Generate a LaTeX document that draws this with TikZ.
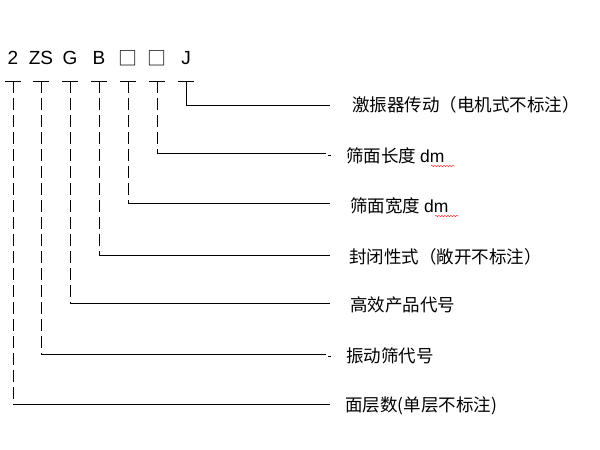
\documentclass[tikz,border=0pt]{standalone}
\usepackage{fontspec}
\setmainfont{Liberation Sans}
\newfontfamily\cjk{Noto Sans CJK SC}
\usetikzlibrary{decorations.pathmorphing}
\tikzset{code/.style={font=\fontsize{19}{22}\selectfont, inner sep=0pt},
 lbl/.style={font=\cjk\fontsize{17.5}{20}\selectfont, anchor=west, inner sep=0pt},
 leg/.style={thin, dash pattern=on 12pt off 5pt},
 wavy/.style={red, decorate, decoration={snake, amplitude=.6pt, segment length=3pt}},
 }
\begin{document}
\begin{tikzpicture}[x=1pt, y=-1pt]
        \useasboundingbox (0,0) rectangle (600,450);
        % code letters and their legs
        \foreach \t/\x/\y[count=\i] in {{\cjk □}/157/153, {\cjk □}/128/203, B/99/255, G/70/303, ZS/41/354, 2/13/404} {
            \node[code] (c\i) at (\x, 58) {\t};
            \coordinate (t\i) at (\x, 81);
            \draw (\x-8, 81) -- (\x+8, 81);
            \draw[leg] (t\i) -- (\x, \y) coordinate (e\i);
        }
        \node[code] (cj) at (186, 58) {J};
        \draw (178, 81) -- (194, 81);
        \draw (186, 81) -- (186, 105) coordinate (ej);
        % labels
        \node[lbl] (lj) at (352, 105) {激振器传动（电机式不标注）};
        \node[lbl] (l1) at (346, 156) {筛面长度 {\rmfamily dm}};
        \node[lbl] (l2) at (350, 206) {筛面宽度 {\rmfamily dm}};
        \node[lbl] (l3) at (349, 257) {封闭性式（敞开不标注）};
        \node[lbl] (l4) at (350, 305) {高效产品代号};
        \node[lbl] (l5) at (346, 356) {振动筛代号};
        \node[lbl] (l6) at (345, 406) {面层数(单层不标注)};
        \draw (ej) -- (330, 105);
        \draw (e1) -- (326, 153);
        \draw (328, 155) -- (331, 155);
        \draw (e2) -- (330, 203);
        \draw (e3) -- (330, 255);
        \draw (e4) -- (330, 303);
        \draw (e5) -- (326, 354);
        \draw (328, 356) -- (331, 356);
        \draw (e6) -- (330, 404);
        % spell-check marks
        \draw[wavy] (431, 166) -- (455, 166);
        \draw[wavy] (435, 216) -- (459, 216);
    \end{tikzpicture}
\end{document}
